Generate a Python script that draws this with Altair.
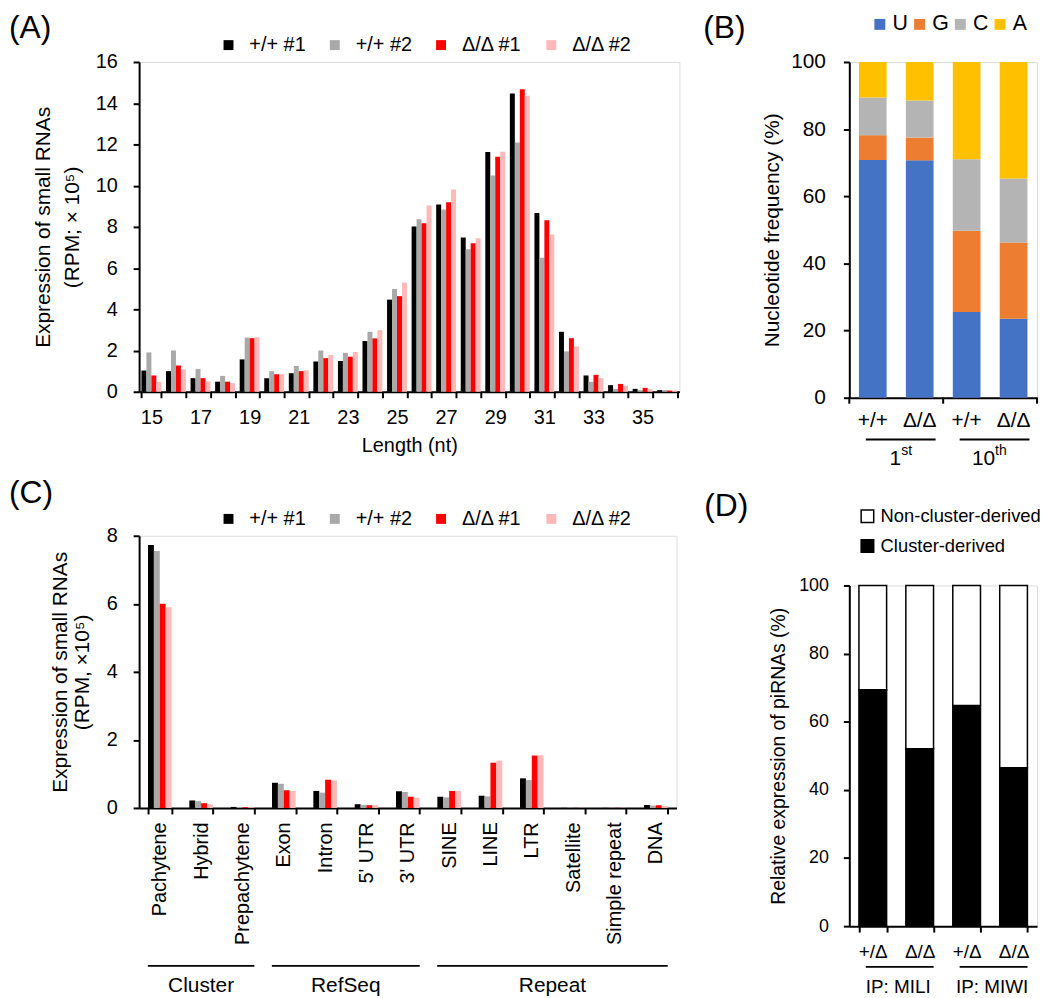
import altair as alt
import pandas as pd

FONT = "Liberation Sans"

# ---------------- data ----------------
samples = ["+/+ #1", "+/+ #2", "Δ/Δ #1", "Δ/Δ #2"]
sample_colors = ["#000000", "#A9A9A9", "#FF0000", "#FFB9B9"]

lengths = list(range(15, 37))
a_wt1 = [1.03, 1.00, 0.66, 0.49, 1.57, 0.66, 0.90, 1.47, 1.49, 2.46, 4.47, 8.02, 9.08, 7.49, 11.63, 14.47, 8.67, 2.91, 0.79, 0.32, 0.14, 0.08]
a_wt2 = [1.91, 2.00, 1.11, 0.77, 2.63, 1.00, 1.25, 2.00, 1.89, 2.91, 4.98, 8.37, 8.84, 6.92, 10.49, 12.10, 6.50, 1.96, 0.48, 0.14, 0.08, 0.08]
a_ko1 = [0.79, 1.27, 0.66, 0.49, 2.60, 0.85, 1.00, 1.63, 1.70, 2.59, 4.64, 8.18, 9.20, 7.21, 11.40, 14.68, 8.32, 2.60, 0.82, 0.38, 0.19, 0.06]
a_ko2 = [0.48, 1.09, 0.50, 0.42, 2.65, 0.85, 1.04, 1.79, 1.93, 2.99, 5.30, 9.04, 9.81, 7.45, 11.65, 14.36, 7.63, 2.20, 0.66, 0.29, 0.12, 0.06]

b_cats = ["1st|+/+", "1st|Δ/Δ", "10th|+/+", "10th|Δ/Δ"]
nucleotides = ["U", "G", "C", "A"]
nuc_colors = ["#4472C4", "#ED7D31", "#B4B4B4", "#FFC000"]
b_U = [70.8, 70.7, 25.5, 23.5]
b_G = [7.4, 6.8, 24.2, 22.7]
b_C = [11.2, 11.0, 21.3, 19.1]
b_A = [10.6, 11.5, 29.0, 34.7]
b_groups = ["1", "10"]
b_group_sup = ["st", "th"]
b_group_start = ["1st|+/+", "10th|+/+"]
b_group_end = ["1st|Δ/Δ", "10th|Δ/Δ"]

c_cats = ["Pachytene", "Hybrid", "Prepachytene", "Exon", "Intron", "5' UTR", "3' UTR",
          "SINE", "LINE", "LTR", "Satellite", "Simple repeat", "DNA"]
c_wt1 = [7.73, 0.22, 0.03, 0.74, 0.50, 0.11, 0.49, 0.33, 0.36, 0.87, 0.004, 0.004, 0.09]
c_wt2 = [7.55, 0.20, 0.02, 0.71, 0.45, 0.09, 0.47, 0.31, 0.34, 0.82, 0.004, 0.004, 0.07]
c_ko1 = [6.00, 0.14, 0.02, 0.52, 0.83, 0.08, 0.33, 0.50, 1.33, 1.54, 0.004, 0.004, 0.08]
c_ko2 = [5.90, 0.11, 0.02, 0.50, 0.81, 0.08, 0.30, 0.50, 1.39, 1.55, 0.004, 0.004, 0.06]
c_groups = ["Cluster", "RefSeq", "Repeat"]
c_group_start = ["Pachytene", "Exon", "SINE"]
c_group_end = ["Prepachytene", "3' UTR", "DNA"]
c_group_anchor = ["Hybrid", "Intron", "LTR"]

d_cats = ["MILI|+/Δ", "MILI|Δ/Δ", "MIWI|+/Δ", "MIWI|Δ/Δ"]
d_types = ["Non-cluster-derived", "Cluster-derived"]
d_cluster = [69.4, 52.1, 64.8, 46.5]
d_noncluster = [30.6, 47.9, 35.2, 53.5]
d_groups = ["IP: MILI", "IP: MIWI"]
d_group_start = ["MILI|+/Δ", "MIWI|+/Δ"]
d_group_end = ["MILI|Δ/Δ", "MIWI|Δ/Δ"]

panel_labels = ["(A)", "(B)", "(C)", "(D)"]

# ---------------- tables ----------------
dfA = pd.DataFrame([
    {"length": L, "sample": s, "value": v}
    for s, vals in zip(samples, [a_wt1, a_wt2, a_ko1, a_ko2])
    for L, v in zip(lengths, vals)
])
dfB = pd.DataFrame([
    {"cat": c, "nuc": n, "value": v, "ord": k}
    for k, (n, vals) in enumerate(zip(nucleotides, [b_U, b_G, b_C, b_A]))
    for c, v in zip(b_cats, vals)
])
dfBg = pd.DataFrame({"g": b_groups, "sup": b_group_sup, "start": b_group_start, "end": b_group_end})
dfC = pd.DataFrame([
    {"cat": c, "sample": s, "value": v}
    for s, vals in zip(samples, [c_wt1, c_wt2, c_ko1, c_ko2])
    for c, v in zip(c_cats, vals)
])
dfCg = pd.DataFrame({"g": c_groups, "start": c_group_start, "end": c_group_end, "anchor": c_group_anchor})
dfD = pd.DataFrame(
    [{"cat": c, "type": "Cluster-derived", "value": v, "ord": 0} for c, v in zip(d_cats, d_cluster)] +
    [{"cat": c, "type": "Non-cluster-derived", "value": v, "ord": 1} for c, v in zip(d_cats, d_noncluster)]
)
dfDg = pd.DataFrame({"g": d_groups, "start": d_group_start, "end": d_group_end})


def yaxis(title, values, fs, tfs, lpad, tpad, lh=29):
    return alt.Axis(title=title, values=values, grid=False, domainColor="black", domainWidth=2,
                    tickColor="black", tickWidth=2, tickSize=6, labelFontSize=fs, labelColor="black",
                    labelPadding=lpad, titleFontSize=tfs, titleFontWeight="normal", titleColor="black",
                    titlePadding=tpad, titleLineHeight=lh, labelFont=FONT, titleFont=FONT)


def panel_label(i, dx, dy):
    return alt.Chart(pd.DataFrame({"lab": [panel_labels[i]]})).mark_text(
        fontSize=32, font=FONT, color="black", align="left", baseline="top").encode(
        text="lab:N", x=alt.value(dx), y=alt.value(dy))

# ---------------- panel A ----------------
wA, hA = 544, 332
a_bars = alt.Chart(dfA).mark_bar().encode(
    x=alt.X("length:O", scale=alt.Scale(domain=lengths, paddingInner=0.19, paddingOuter=0.095),
            axis=alt.Axis(title="Length (nt)", labelAngle=0, tickBand="extent",
                          labelExpr="datum.value % 2 == 1 ? datum.label : ''",
                          domainColor="black", domainWidth=2, tickColor="black", tickWidth=2, tickSize=6,
                          labelFontSize=20, labelColor="black", labelPadding=10, titleFontSize=20,
                          titleFontWeight="normal", titleColor="black", titlePadding=8,
                          labelFont=FONT, titleFont=FONT)),
    xOffset=alt.XOffset("sample:N", scale=alt.Scale(domain=samples, paddingInner=0, paddingOuter=0)),
    y=alt.Y("value:Q", scale=alt.Scale(domain=[0, 16]),
            axis=yaxis(["Expression of small RNAs", "(RPM; × 10⁵)"], [0, 2, 4, 6, 8, 10, 12, 14, 16],
                       20, 21, 16, 13, lh=29)),
    color=alt.Color("sample:N", scale=alt.Scale(domain=samples, range=sample_colors),
                    legend=alt.Legend(orient="none", legendX=80, legendY=-27, direction="horizontal",
                                      title=None, symbolType="square", symbolSize=100, symbolStrokeWidth=0,
                                      labelFontSize=20, labelColor="black", labelFont=FONT,
                                      columnPadding=19, labelOffset=11, padding=0)),
)
A = alt.layer(a_bars, panel_label(0, -131, -49)).properties(width=wA, height=hA)

# ---------------- panel C ----------------
wC, hC = 541, 274
c_bars = alt.Chart(dfC).mark_bar().encode(
    x=alt.X("cat:N", scale=alt.Scale(domain=c_cats, paddingInner=0.43, paddingOuter=0.215),
            axis=alt.Axis(title=None, labelAngle=-90, tickBand="extent",
                          domainColor="black", domainWidth=2, tickColor="black", tickWidth=2, tickSize=6,
                          labelFontSize=20, labelColor="black", labelPadding=8, labelFont=FONT,
                          labelLimit=300)),
    xOffset=alt.XOffset("sample:N", scale=alt.Scale(domain=samples, paddingInner=0, paddingOuter=0)),
    y=alt.Y("value:Q", scale=alt.Scale(domain=[0, 8]),
            axis=yaxis(["Expression of small RNAs", "(RPM, ×10⁵)"], [0, 2, 4, 6, 8], 20, 21, 16, 14, lh=22)),
    color=alt.Color("sample:N", scale=alt.Scale(domain=samples, range=sample_colors),
                    legend=alt.Legend(orient="none", legendX=80, legendY=-27, direction="horizontal",
                                      title=None, symbolType="square", symbolSize=100, symbolStrokeWidth=0,
                                      labelFontSize=20, labelColor="black", labelFont=FONT,
                                      columnPadding=19, labelOffset=11, padding=0)),
)
c_rules = alt.Chart(dfCg).mark_rule(color="black", strokeWidth=2, xOffset=-12, x2Offset=12).encode(
    x=alt.X("start:N"), x2="end:N", y=alt.value(hC + 159))
c_texts = []
for g, shift in zip(c_groups, [0, 1, 1]):
    c_texts.append(
        alt.Chart(dfCg[dfCg["g"] == g]).mark_text(fontSize=21, font=FONT, color="black",
                                                   baseline="middle", dx=shift * wC / 26).encode(
            x=alt.X("anchor:N"), y=alt.value(hC + 179), text="g:N"))
C = alt.layer(c_bars, c_rules, *c_texts, panel_label(2, -131, -58)).properties(width=wC, height=hC)

# ---------------- panel B ----------------
wB, hB = 189, 338
stepB = wB / 4
b_bars = alt.Chart(dfB).mark_bar().encode(
    x=alt.X("cat:N", scale=alt.Scale(domain=b_cats, paddingInner=0.41, paddingOuter=0.205),
            axis=alt.Axis(title=None, labelAngle=0, ticks=False, labelExpr="split(datum.value, '|')[1]",
                          domainColor="black", domainWidth=2, labelFontSize=21, labelColor="black",
                          labelPadding=12, labelFont=FONT)),
    y=alt.Y("value:Q", stack="zero", scale=alt.Scale(domain=[0, 100]),
            axis=yaxis("Nucleotide frequency (%)", [0, 20, 40, 60, 80, 100], 21, 21, 18, 8)),
    color=alt.Color("nuc:N", scale=alt.Scale(domain=nucleotides, range=nuc_colors),
                    legend=alt.Legend(orient="none", legendX=20, legendY=-49, direction="horizontal",
                                      title=None, symbolType="square", symbolSize=121, symbolStrokeWidth=0,
                                      labelFontSize=21.5, labelColor="black", labelFont=FONT,
                                      columnPadding=0, labelOffset=2, padding=0)),
    order=alt.Order("ord:Q"),
)
b_tick1 = alt.Chart(dfBg).mark_rule(color="black", strokeWidth=2, xOffset=-stepB / 2).encode(
    x=alt.X("start:N"), y=alt.value(hB), y2=alt.value(hB + 6))
b_tick2 = alt.Chart(dfBg[dfBg["g"] == "10"]).mark_rule(color="black", strokeWidth=2, xOffset=stepB / 2).encode(
    x=alt.X("end:N"), y=alt.value(hB), y2=alt.value(hB + 6))
b_rules = alt.Chart(dfBg).mark_rule(color="black", strokeWidth=2, xOffset=-7, x2Offset=16).encode(
    x=alt.X("start:N"), x2="end:N", y=alt.value(hB + 42))
b_text = alt.Chart(dfBg).mark_text(fontSize=21, font=FONT, color="black", align="right",
                                   baseline="middle", dx=stepB / 2 + 5).encode(
    x=alt.X("start:N"), y=alt.value(hB + 62), text="g:N")
b_sup = alt.Chart(dfBg).mark_text(fontSize=14, font=FONT, color="black", align="left",
                                  baseline="middle", dx=stepB / 2 + 5).encode(
    x=alt.X("start:N"), y=alt.value(hB + 54), text="sup:N")
B = alt.layer(b_bars, b_tick1, b_tick2, b_rules, b_text, b_sup, panel_label(1, -147, -49)).properties(
    width=wB, height=hB)

# ---------------- panel D ----------------
wD, hD = 189, 343
stepD = wD / 4
d_bars = alt.Chart(dfD).mark_bar(stroke="black", strokeWidth=1.5).encode(
    x=alt.X("cat:N", scale=alt.Scale(domain=d_cats, paddingInner=0.41, paddingOuter=0.205),
            axis=alt.Axis(title=None, labelAngle=0, tickBand="extent", labelExpr="split(datum.value, '|')[1]",
                          domainColor="black", domainWidth=2, tickColor="black", tickWidth=2, tickSize=6,
                          labelFontSize=19, labelColor="black", labelPadding=11, labelFont=FONT)),
    y=alt.Y("value:Q", stack="zero", scale=alt.Scale(domain=[0, 100]),
            axis=yaxis("Relative expression of piRNAs (%)", [0, 20, 40, 60, 80, 100], 18, 19.5, 15, 10)),
    color=alt.Color("type:N", scale=alt.Scale(domain=d_types, range=["#FFFFFF", "#000000"]),
                    legend=alt.Legend(orient="none", legendX=9, legendY=-79, direction="vertical",
                                      title=None, symbolType="square", symbolSize=160,
                                      symbolStrokeColor="black", symbolStrokeWidth=1.5,
                                      labelFontSize=18.5, labelColor="black", labelFont=FONT,
                                      rowPadding=10, labelOffset=4, padding=0, labelLimit=400)),
    order=alt.Order("ord:Q"),
)
d_rules = alt.Chart(dfDg).mark_rule(color="black", strokeWidth=2, xOffset=-7, x2Offset=14).encode(
    x=alt.X("start:N"), x2="end:N", y=alt.value(hD + 41))
d_text = alt.Chart(dfDg).mark_text(fontSize=19, font=FONT, color="black", baseline="middle",
                                   dx=stepD / 2 + 2).encode(
    x=alt.X("start:N"), y=alt.value(hD + 61), text="g:N")
D = alt.layer(d_bars, d_rules, d_text, panel_label(3, -146, -95)).properties(width=wD, height=hD)

RES = dict(color="independent", x="independent", y="independent", xOffset="independent")
left = alt.vconcat(A, C, spacing=20).resolve_scale(**RES)
right = alt.vconcat(B, D, spacing=19).resolve_scale(**RES)
chart = alt.hconcat(left, right, spacing=22).resolve_scale(**RES).properties(padding=0).configure_view(
    stroke=None).configure(font=FONT)

chart.save("out.html", embed_options={"renderer": "svg", "actions": False})
